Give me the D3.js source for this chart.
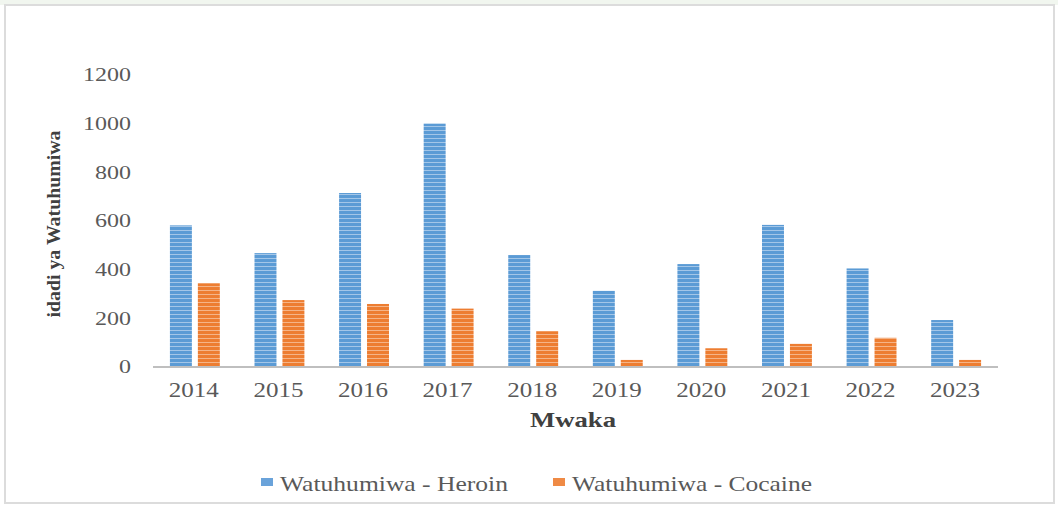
<!DOCTYPE html>
<html lang="en">
<head>
    <meta charset="UTF-8">
    <title>Watuhumiwa - Heroin na Cocaine</title>
    <script src="https://d3js.org/d3.v7.min.js"></script>
    <style>
        body { margin: 0; background: #fff; }
        svg { display: block; font-family: "Liberation Serif", "Times New Roman", serif; }
    </style>
</head>
<body>
    <script>
        const years = ['2014', '2015', '2016', '2017', '2018', '2019', '2020', '2021', '2022', '2023'];
        const heroin = [582, 468, 715, 1000, 460, 313, 423, 584, 405, 193];
        const cocaine = [344, 275, 259, 240, 147, 29, 77, 95, 120, 29];
        const seriesNames = ['Watuhumiwa - Heroin', 'Watuhumiwa - Cocaine'];
        const yTicks = [0, 200, 400, 600, 800, 1000, 1200];

        const width = 1058;
        const height = 508;

        const svg = d3.select('body')
                      .append('svg')
                      .attr('width', width)
                      .attr('height', height);

        // faint strip above the frame + frame
        svg.append('rect').attr('x', 0).attr('y', 0).attr('width', width).attr('height', 5).attr('fill', '#f1f6ef');
        svg.append('rect')
           .attr('x', 5).attr('y', 5)
           .attr('width', 1049).attr('height', 498)
           .attr('fill', '#fff')
           .attr('stroke', '#dcdcdc')
           .attr('stroke-width', 2);

        // striped fills
        const defs = svg.append('defs');
        function stripes(id, base, light) {
            const p = defs.append('pattern')
                          .attr('id', id)
                          .attr('patternUnits', 'userSpaceOnUse')
                          .attr('width', 8).attr('height', 4);
            p.append('rect').attr('width', 8).attr('height', 4).attr('fill', base);
            p.append('rect').attr('y', 2).attr('width', 8).attr('height', 1).attr('fill', light);
        }
        stripes('blueStripe', '#5b9bd5', '#a3c6e8');
        stripes('orangeStripe', '#ed7d31', '#f5b487');
        const fills = ['url(#blueStripe)', 'url(#orangeStripe)'];
        const swatch = ['#6aa3da', '#ef8a45'];

        const xScale = d3.scaleBand()
                         .domain(years)
                         .range([153, 998])
                         .paddingInner(0.41)
                         .paddingOuter(0.2);

        const inner = d3.scaleBand()
                        .domain([0, 1])
                        .range([0, xScale.bandwidth()])
                        .paddingInner(0.214);

        const yScale = d3.scaleLinear()
                         .domain([0, 1200])
                         .range([367, 75]);

        // y tick labels
        svg.append('g')
           .selectAll('text')
           .data(yTicks)
           .join('text')
           .attr('x', 131)
           .attr('y', d => yScale(d))
           .attr('dy', '0.35em')
           .attr('text-anchor', 'end')
           .attr('font-size', 18)
           .attr('fill', '#595959')
           .attr('textLength', d => String(d).length * 12)
           .attr('lengthAdjust', 'spacingAndGlyphs')
           .text(d => d);

        // bars
        const groups = svg.append('g')
           .selectAll('g')
           .data(years)
           .join('g')
           .attr('transform', d => `translate(${xScale(d)},0)`);

        groups.selectAll('rect')
              .data((d, i) => [heroin[i], cocaine[i]])
              .join('rect')
              .attr('x', (d, j) => inner(j))
              .attr('y', d => yScale(d))
              .attr('width', inner.bandwidth())
              .attr('height', d => yScale(0) - yScale(d))
              .attr('fill', (d, j) => fills[j]);

        // baseline
        svg.append('line')
           .attr('x1', 153).attr('x2', 998)
           .attr('y1', yScale(0)).attr('y2', yScale(0))
           .attr('stroke', '#bfbfbf')
           .attr('stroke-width', 2);

        // x tick labels
        svg.append('g')
           .selectAll('text')
           .data(years)
           .join('text')
           .attr('x', d => xScale(d) + xScale.bandwidth() / 2 - 1)
           .attr('y', 397)
           .attr('text-anchor', 'middle')
           .attr('font-size', 21)
           .attr('fill', '#595959')
           .attr('textLength', 50)
           .attr('lengthAdjust', 'spacingAndGlyphs')
           .text(d => d);

        // axis titles
        svg.append('text')
           .attr('x', 573)
           .attr('y', 427)
           .attr('text-anchor', 'middle')
           .attr('font-size', 21)
           .attr('font-weight', 'bold')
           .attr('fill', '#404040')
           .attr('textLength', 86)
           .attr('lengthAdjust', 'spacingAndGlyphs')
           .text('Mwaka');

        svg.append('text')
           .attr('transform', 'translate(60,224) rotate(-90)')
           .attr('text-anchor', 'middle')
           .attr('font-size', 19)
           .attr('font-weight', 'bold')
           .attr('fill', '#404040')
           .attr('textLength', 187)
           .attr('lengthAdjust', 'spacingAndGlyphs')
           .text('idadi ya Watuhumiwa');

        // legend
        const legendX = [261, 553];
        const legendW = [228, 240];
        const legend = svg.append('g')
           .selectAll('g')
           .data(seriesNames)
           .join('g')
           .attr('transform', (d, i) => `translate(${legendX[i]},0)`);

        legend.append('rect')
              .attr('x', 0).attr('y', 478)
              .attr('width', 12).attr('height', 8)
              .attr('fill', (d, i) => swatch[i]);

        legend.append('text')
              .attr('x', 19)
              .attr('y', 491)
              .attr('font-size', 22)
              .attr('fill', '#595959')
              .attr('textLength', (d, i) => legendW[i])
              .attr('lengthAdjust', 'spacingAndGlyphs')
              .text(d => d);
    </script>
</body>
</html>
